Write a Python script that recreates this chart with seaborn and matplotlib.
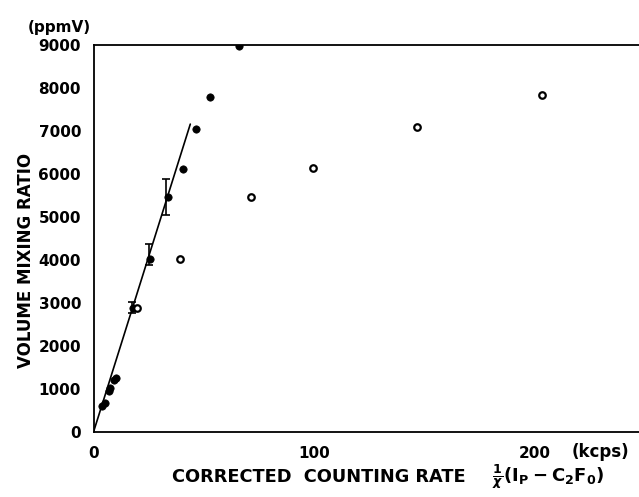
import numpy as np
import pandas as pd
import seaborn as sns
import matplotlib.pyplot as plt

# filled points (kcps, ppmV)
filled_x = [3.9, 5.0, 7.1, 7.7, 9.2, 10.2, 17.8, 25.5, 34.0, 40.5, 46.5, 52.7, 65.9]
filled_y = [600, 680, 960, 1030, 1220, 1250, 2890, 4030, 5470, 6120, 7050, 7800, 8980]

# open points
open_x = [19.8, 39.4, 71.6, 99.5, 146.5, 203.3]
open_y = [2890, 4030, 5470, 6140, 7100, 7840]

# error bars
err_x = [17.5, 25.2, 33.1]
err_y = [2890, 4130, 5470]
err_dy = [130, 250, 420]

# fitted line
fit_x = [0, 43.9]
fit_y = [0, 7160]

sns.set_style('white')
plt.rcParams['font.family'] = ['DejaVu Sans']
plt.rcParams['font.weight'] = 'bold'
plt.rcParams['text.color'] = 'black'
plt.rcParams['axes.labelcolor'] = 'black'
plt.rcParams['xtick.color'] = 'black'
plt.rcParams['ytick.color'] = 'black'

fig = plt.figure(figsize=(6.39, 4.97), dpi=100)
ax = fig.add_axes([93.5 / 639, 65 / 497, 1 - 93.5 / 639, 387 / 497])

sns.lineplot(x=fit_x, y=fit_y, ax=ax, color='black', lw=1.2)
sns.scatterplot(x=filled_x, y=filled_y, ax=ax, color='black', s=28,
                edgecolor='black', linewidth=0.5, zorder=3)
sns.scatterplot(x=open_x, y=open_y, ax=ax, facecolor='white', s=22,
                edgecolor='black', linewidth=1.6, zorder=3)
ax.errorbar(err_x, err_y, yerr=err_dy, fmt='none', ecolor='black',
            elinewidth=1.2, capsize=3, capthick=1.2)

ax.set_xlim(0, 247.4)
ax.set_ylim(0, 9000)
ax.set_xticks([0, 50, 100, 150, 200])
ax.set_xticklabels(['0', '', '100', '', '200'], fontsize=11, fontweight='bold')
ax.set_yticks(np.arange(0, 9001, 1000))
ax.set_yticklabels([str(v) for v in range(0, 9001, 1000)], fontsize=11, fontweight='bold')
ax.tick_params(axis='x', direction='in', length=6, width=1.2, pad=10)
ax.tick_params(axis='y', direction='out', length=7, width=1.2, pad=2)

for side in ['left', 'top', 'bottom']:
    ax.spines[side].set_color('black')
    ax.spines[side].set_linewidth(1.3)
ax.spines['right'].set_visible(False)

ax.set_ylabel('VOLUME MIXING RATIO', fontsize=12, fontweight='bold')
ax.yaxis.set_label_coords(-(93.5 - 35) / 546, 0.444)
fig.text(28 / 639, 1 - 32 / 497, '(ppmV)', fontsize=11, fontweight='bold')
fig.text(572 / 639, 1 - 457 / 497, '(kcps)', fontsize=12, fontweight='bold')
fig.text(172 / 639, 1 - 482 / 497, 'CORRECTED  COUNTING RATE', fontsize=12.8, fontweight='bold')
fig.text(492 / 639, 1 - 482 / 497, r'$\frac{1}{\chi}(\mathrm{I_P - C_2F_0})$', fontsize=13)

fig.savefig('out.png', dpi=100)
